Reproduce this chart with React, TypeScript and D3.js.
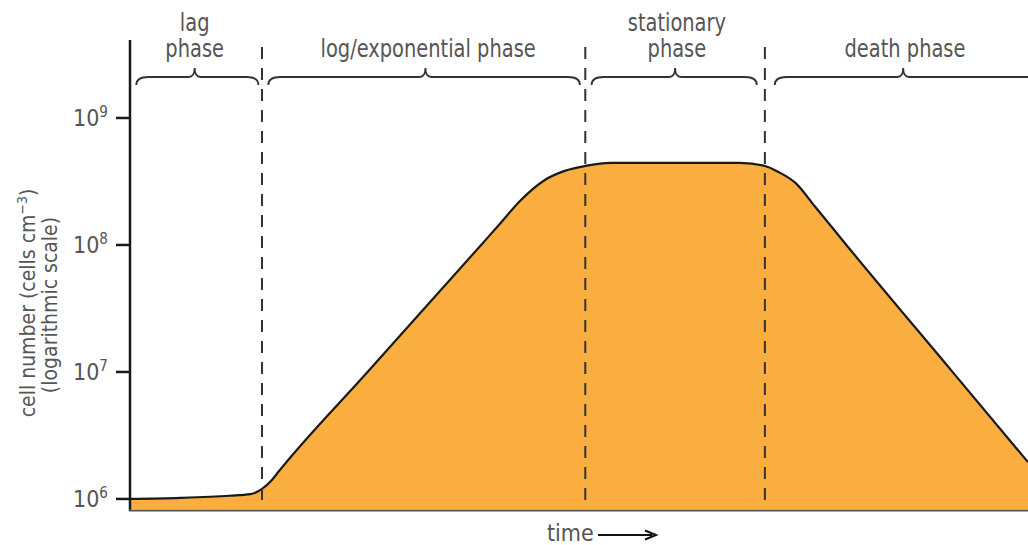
import React from 'react';
import * as d3 from 'd3';

// growth curve (time in arbitrary units 0-100)
const timePoints = [0, 5.6, 11.1, 13.4, 14.7, 15.8, 16.6, 26.4, 39.1, 41.2, 43.4, 46.2, 48.4, 50.7, 53.5, 67.9, 70.7, 72.2, 74.1, 76.3, 79.8, 91.5, 100];
const cellCounts = [1.0e6, 1.02e6, 1.06e6, 1.09e6, 1.2e6, 1.41e6, 1.66e6, 9.9e6, 1.0e8, 1.47e8, 2.21e8, 3.25e8, 3.83e8, 4.19e8, 4.43e8, 4.43e8, 4.19e8, 3.76e8, 3.08e8, 2.0e8, 9.95e7, 1.02e7, 1.95e6];

const phaseBounds = [14.7, 50.7, 70.7];
const phaseNames = [['lag', 'phase'], ['log/exponential phase'], ['stationary', 'phase'], ['death phase']];
const braceStart = [0.7, 15.4, 51.4, 71.8];
const braceEnd = [14.3, 50.1, 69.8, 103];
const braceMid = [7.2, 32.9, 60.7, 86.1];
const labelMid = [7.2, 33.2, 60.9, 86.3];

const tickValues = [1e6, 1e7, 1e8, 1e9];
const tickExp = ['6', '7', '8', '9'];

const W = 1028;
const H = 545;
const font = "'DejaVu Sans Condensed', 'DejaVu Sans', sans-serif";
const textColor = '#555';

function bracePath(x1: number, x2: number, xm: number, y: number) {
    const d = 8;
    return `M${x1},${y + d} Q${x1},${y} ${x1 + 12},${y} L${xm - 6},${y} Q${xm},${y} ${xm},${y - 9} Q${xm},${y} ${xm + 6},${y} L${x2 - 12},${y} Q${x2},${y} ${x2},${y + d}`;
}

export default function App() {
    const x = d3.scaleLinear().domain([0, 100]).range([130, 1028]);
    const y = d3.scaleLog().domain([Math.pow(10, 5.913), Math.pow(10, 9.614)]).range([510, 40]);
    const bottom = 509;

    const pts: [number, number][] = timePoints.map((t, i) => [x(t), y(cellCounts[i])]);
    const line = d3.line().curve(d3.curveMonotoneX);
    const area = d3.area().curve(d3.curveMonotoneX).y0(bottom);

    return (
        <svg width={W} height={H} style={{ position: 'absolute', left: 0, top: 0, background: '#fff' }}>
            <path d={area(pts) || ''} fill="#F9AE3F" />
            <path d={line(pts) || ''} fill="none" stroke="#1a1a1a" strokeWidth={2.2} />

            {phaseBounds.map((b, i) => (
                <line key={i} x1={x(b)} x2={x(b)} y1={47} y2={506} stroke="#333" strokeWidth={2} strokeDasharray="12 9" />
            ))}

            {/* axes */}
            <line x1={130} x2={130} y1={40} y2={511} stroke="#1a1a1a" strokeWidth={2.5} />
            <line x1={129} x2={W} y1={510.5} y2={510.5} stroke="#555" strokeWidth={2} />
            {tickValues.map((v, i) => (
                <g key={i} transform={`translate(0,${y(v)})`}>
                    <line x1={116} x2={130} stroke="#1a1a1a" strokeWidth={2.5} />
                    <text x={73} y={8} fontFamily={font} fontSize={23} fill={textColor}>
                        10<tspan dy={-9} fontSize={15}>{tickExp[i]}</tspan>
                    </text>
                </g>
            ))}

            <g fontFamily={font} fontSize={21} fill={textColor} textAnchor="middle">
                <text transform="translate(35,303) rotate(-90)">
                    cell number (cells cm<tspan dy={-8} fontSize={14}>−3</tspan><tspan dy={8}>)</tspan>
                </text>
                <text transform="translate(57,305) rotate(-90)">(logarithmic scale)</text>
            </g>

            {/* braces and phase names */}
            {braceStart.map((s, i) => (
                <path key={i} d={bracePath(x(s), x(braceEnd[i]), x(braceMid[i]), 77)} fill="none" stroke="#333" strokeWidth={1.8} />
            ))}
            <g fontFamily={font} fontSize={24} fill={textColor} textAnchor="middle">
                {phaseNames.map((lines, i) => lines.map((l, j) => (
                    <text key={i + '-' + j}
                        transform={`translate(${x(labelMid[i])},${lines.length === 2 && j === 0 ? 31 : 57}) scale(0.9,1)`}>{l}</text>
                )))}
            </g>

            <text x={547} y={541} fontFamily={font} fontSize={23} fill={textColor}>time</text>
            <line x1={598} x2={652} y1={535} y2={535} stroke="#111" strokeWidth={2.2} />
            <path d="M645,530.5 L656,535 L645,539.5" fill="none" stroke="#111" strokeWidth={2} />
        </svg>
    );
}
